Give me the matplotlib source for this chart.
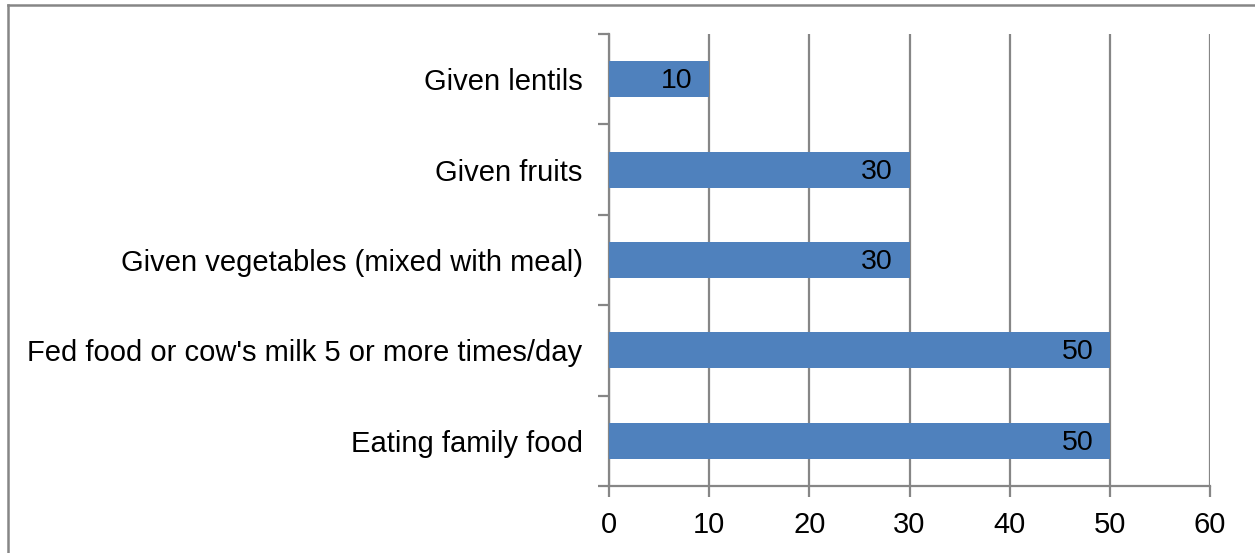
import matplotlib
matplotlib.use("Agg")
import matplotlib.pyplot as plt
from matplotlib.lines import Line2D

plt.rcParams['font.family'] = ['Liberation Sans', 'DejaVu Sans']

categories = [
    "Eating family food",
    "Fed food or cow's milk 5 or more times/day",
    "Given vegetables (mixed with meal)",
    "Given fruits",
    "Given lentils",
]
values = [50, 50, 30, 30, 10]
x_ticks = [0, 10, 20, 30, 40, 50, 60]

bar_color = "#4F81BD"
grid_color = "#868686"

fig = plt.figure(figsize=(12.55, 5.53), dpi=100)
ax = fig.add_axes([609 / 1255, 1 - 486 / 553, (1210 - 609) / 1255, (486 - 34) / 553])

pos = list(range(len(categories)))
bars = ax.barh(pos, values, height=0.4, color=bar_color, zorder=3)

for b, v in zip(bars, values):
    ax.annotate(f"{v}", (b.get_width(), b.get_y() + b.get_height() / 2),
                xytext=(-12, -1.5), textcoords="offset points",
                ha="right", va="center", fontsize=20.5, color="black", zorder=4)

ax.set_xlim(0, 60)
ax.set_ylim(-0.5, len(categories) - 0.5)
ax.set_xticks(x_ticks)
ax.set_xticklabels([str(t) for t in x_ticks], fontsize=21)
ax.xaxis.grid(True, color=grid_color, linewidth=1.6, zorder=0)
ax.set_axisbelow(True)

# Category labels centered on bars, ticks at band boundaries
ax.set_yticks(pos)
ax.set_yticklabels(categories, fontsize=21)
ax.tick_params(axis="y", length=0, pad=19)
ax.set_yticks([p - 0.5 for p in pos] + [len(categories) - 0.5], minor=True)
ax.tick_params(axis="y", which="minor", length=8, width=1.6, color=grid_color, direction="out")
ax.tick_params(axis="x", length=8, width=1.6, color=grid_color, direction="out", pad=10)

for side in ["top", "right"]:
    ax.spines[side].set_visible(False)
for side in ["left", "bottom"]:
    ax.spines[side].set_color(grid_color)
    ax.spines[side].set_linewidth(1.6)

# Chart area frame
fig.add_artist(Line2D([8 / 1255, 8 / 1255], [0, 1 - 5 / 553], transform=fig.transFigure,
                      color=grid_color, linewidth=1.8))
fig.add_artist(Line2D([8 / 1255, 1], [1 - 5 / 553, 1 - 5 / 553], transform=fig.transFigure,
                      color=grid_color, linewidth=1.8))

fig.savefig("out.png", dpi=100)
